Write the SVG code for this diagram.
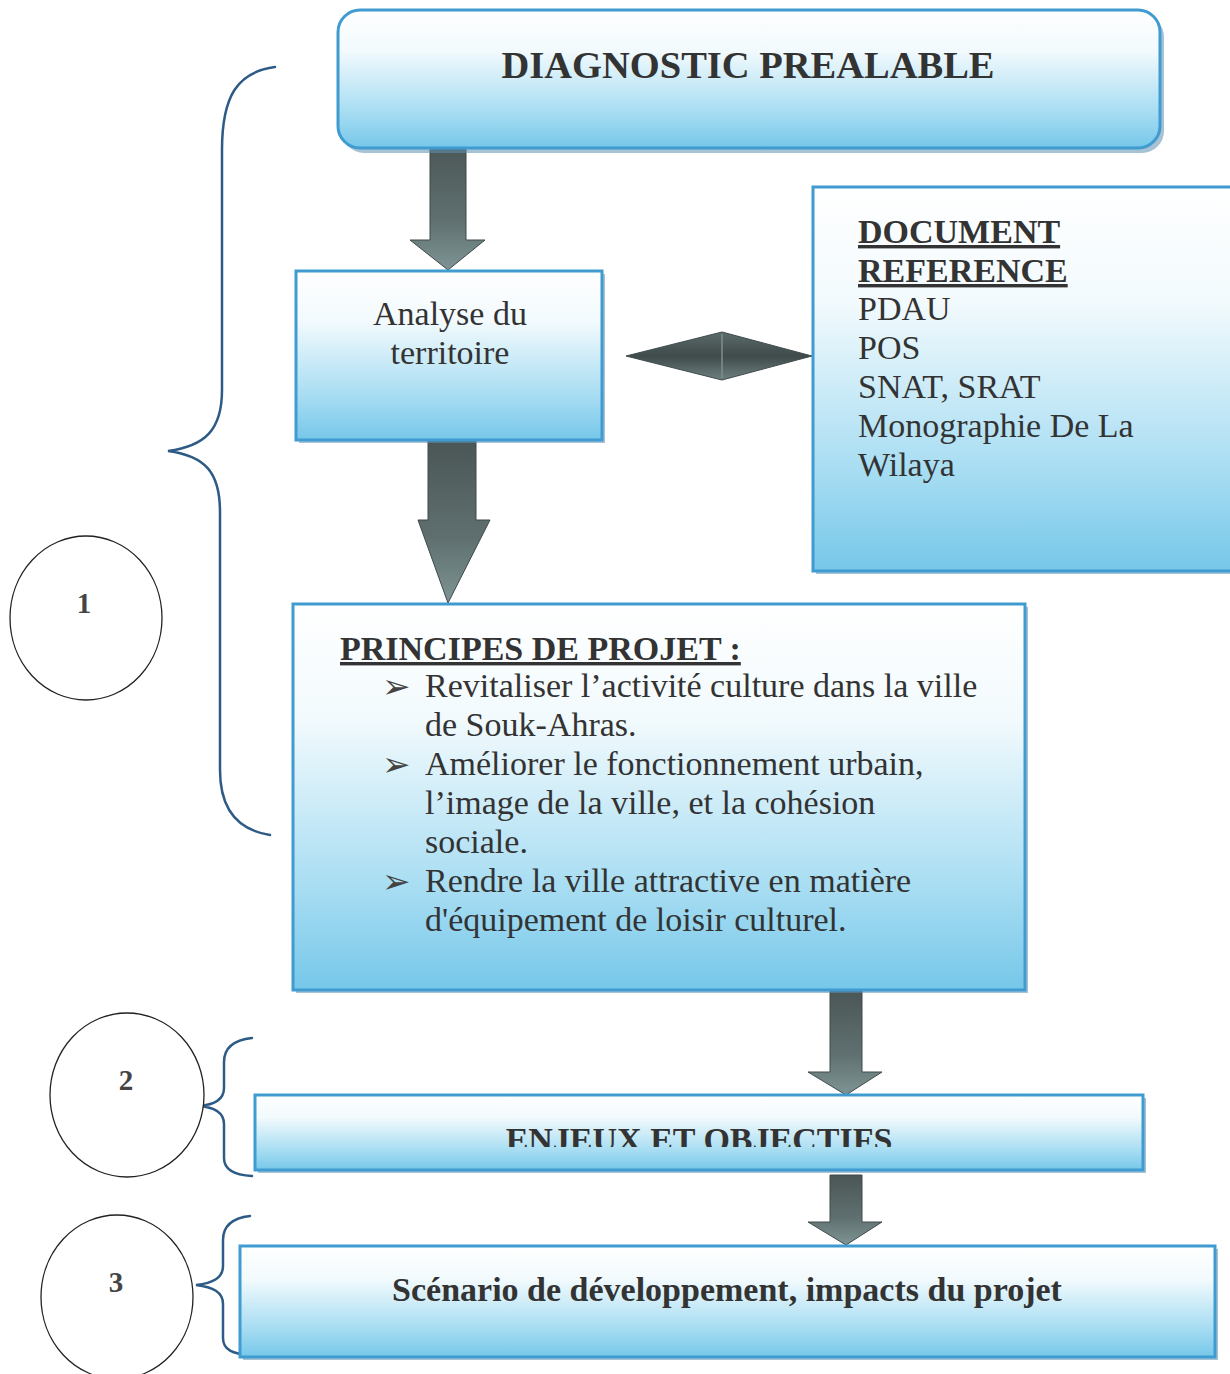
<svg xmlns="http://www.w3.org/2000/svg" width="1230" height="1374" viewBox="0 0 1230 1374">
  <defs>
    <linearGradient id="boxFill" x1="0" y1="0" x2="0" y2="1">
      <stop offset="0" stop-color="#ffffff"/>
      <stop offset="0.3" stop-color="#f2fafd"/>
      <stop offset="0.75" stop-color="#a5dcf2"/>
      <stop offset="1" stop-color="#76c7e9"/>
    </linearGradient>
    <linearGradient id="arrowFill" x1="0" y1="0" x2="0" y2="1">
      <stop offset="0" stop-color="#4b5656"/>
      <stop offset="0.6" stop-color="#5f6f6f"/>
      <stop offset="1" stop-color="#7e9494"/>
    </linearGradient>
    <linearGradient id="diamondFill" x1="0" y1="0" x2="0" y2="1">
      <stop offset="0" stop-color="#5d6b6b"/>
      <stop offset="0.5" stop-color="#3f4a4a"/>
      <stop offset="1" stop-color="#6f8080"/>
    </linearGradient>
    <clipPath id="enjeuxClip">
      <rect x="255" y="1095" width="888" height="52"/>
    </clipPath>
  </defs>
  <style>
    .box { fill: url(#boxFill); stroke: #3f9bd0; stroke-width: 3; }
    .shadow { fill: #5f8fb3; opacity: 0.55; }
    .arrow { fill: url(#arrowFill); stroke: #3e4a4a; stroke-width: 1; }
    .brace { fill: none; stroke: #2d5b86; stroke-width: 2.5; stroke-linecap: round; }
    .ring { fill: #ffffff; stroke: #222; stroke-width: 1.3; }
    .t { font-family: "Liberation Serif", "Times New Roman", serif; fill: #333; font-size: 34px; }
    .b { font-weight: bold; }
    .title { font-size: 38.5px; }
    .num { font-family: "Liberation Serif", serif; font-weight: bold; font-size: 29px; fill: #444; text-anchor: middle; }
    .bullet { font-family: "DejaVu Sans", sans-serif; font-size: 34px; fill: #444; }
  </style>

  <!-- section braces and numbered rings -->
  <g id="braces">
    <path class="brace" d="M275 67 C238 72 222 95 222 150 L222 390 C222 430 205 446 168 451 C205 456 220 472 220 512 L220 770 C220 810 238 830 270 835"/>
    <path class="brace" d="M252 1038 C234 1040 224 1048 224 1062 L224 1088 C224 1100 214 1105 198 1106 C214 1107 224 1112 224 1124 L224 1158 C224 1170 234 1175 252 1176"/>
    <path class="brace" d="M250 1216 C233 1218 223 1226 223 1240 L223 1266 C223 1278 213 1283 196 1285 C213 1287 223 1292 223 1304 L223 1338 C223 1350 233 1354 250 1355"/>
  </g>
  <g id="step1">
    <ellipse class="ring" cx="86" cy="618" rx="76" ry="82"/>
    <text class="num" x="84" y="613">1</text>
  </g>
  <g id="step2">
    <ellipse class="ring" cx="127" cy="1095" rx="77" ry="82"/>
    <text class="num" x="126" y="1090">2</text>
  </g>
  <g id="step3">
    <ellipse class="ring" cx="117" cy="1297" rx="76" ry="82"/>
    <text class="num" x="116" y="1292">3</text>
  </g>

  <!-- block arrows -->
  <g id="connectors">
    <path class="arrow" d="M430 142 L466 142 L466 240 L485 240 L448 270 L410 240 L430 240 Z"/>
    <path class="arrow" d="M428 440 L476 440 L476 520 L490 520 L448 603 L418 520 L428 520 Z"/>
    <path class="arrow" d="M626 356 L722 332 L812 356 L722 380 Z" style="fill:url(#diamondFill)"/>
    <line x1="722" y1="334" x2="722" y2="378" stroke="#7e8f8f" stroke-width="1.5"/>
    <path class="arrow" d="M830 990 L862 990 L862 1072 L882 1072 L846 1095 L808 1072 L830 1072 Z"/>
    <path class="arrow" d="M830 1175 L862 1175 L862 1222 L882 1222 L846 1245 L808 1222 L830 1222 Z"/>
  </g>

  <g id="diagnostic">
    <rect class="shadow" x="342" y="15" width="822" height="138" rx="22"/>
    <rect class="box" x="338" y="10" width="822" height="138" rx="22"/>
    <text class="t b title" x="748" y="78" text-anchor="middle">DIAGNOSTIC PREALABLE</text>
  </g>

  <g id="analyse">
    <rect class="shadow" x="299" y="274" width="306" height="169"/>
    <rect class="box" x="296" y="271" width="306" height="169"/>
    <text class="t" x="450" y="325" text-anchor="middle">Analyse du</text>
    <text class="t" x="450" y="364" text-anchor="middle">territoire</text>
  </g>

  <g id="documents">
    <rect class="shadow" x="816" y="190" width="420" height="384"/>
    <rect class="box" x="813" y="187" width="422" height="384"/>
    <text class="t b" x="858" y="243" text-decoration="underline">DOCUMENT</text>
    <text class="t b" x="858" y="282" text-decoration="underline">REFERENCE</text>
    <text class="t" x="858" y="320">PDAU</text>
    <text class="t" x="858" y="359">POS</text>
    <text class="t" x="858" y="398">SNAT, SRAT</text>
    <text class="t" x="858" y="437">Monographie De La</text>
    <text class="t" x="858" y="476">Wilaya</text>
  </g>

  <g id="principes">
    <rect class="shadow" x="296" y="607" width="732" height="386"/>
    <rect class="box" x="293" y="604" width="732" height="386"/>
    <text class="t b" x="340" y="660" text-decoration="underline">PRINCIPES DE PROJET :</text>
    <text class="bullet" x="382" y="698">➢</text>
    <text class="t" x="425" y="697">Revitaliser l’activité culture dans la ville</text>
    <text class="t" x="425" y="736">de Souk-Ahras.</text>
    <text class="bullet" x="382" y="776">➢</text>
    <text class="t" x="425" y="775">Améliorer le fonctionnement urbain,</text>
    <text class="t" x="425" y="814">l’image de la ville, et la cohésion</text>
    <text class="t" x="425" y="853">sociale.</text>
    <text class="bullet" x="382" y="893">➢</text>
    <text class="t" x="425" y="892">Rendre la ville attractive en matière</text>
    <text class="t" x="425" y="931">d'équipement de loisir culturel.</text>
  </g>

  <g id="enjeux">
    <rect class="shadow" x="258" y="1098" width="888" height="75"/>
    <rect class="box" x="255" y="1095" width="888" height="75"/>
    <text class="t b" x="699" y="1151" text-anchor="middle" clip-path="url(#enjeuxClip)">ENJEUX ET OBJECTIFS</text>
  </g>

  <g id="scenario">
    <rect class="shadow" x="243" y="1249" width="975" height="111"/>
    <rect class="box" x="240" y="1246" width="975" height="111"/>
    <text class="t b" x="727" y="1301" text-anchor="middle">Scénario de développement, impacts du projet</text>
  </g>
</svg>
